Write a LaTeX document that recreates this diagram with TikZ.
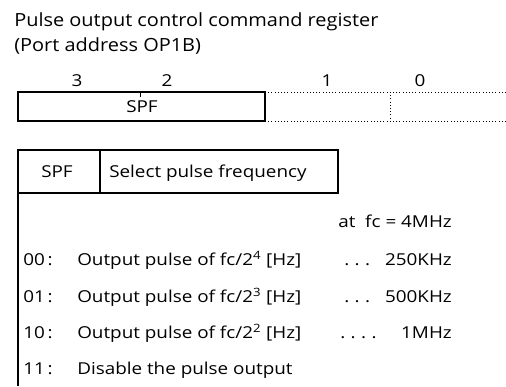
\documentclass[tikz,border=0pt]{standalone}
\usepackage{fontspec}
\setmainfont[FakeStretch=1.15]{Open Sans}
\newfontfamily\titlefont[FakeStretch=1.1]{Open Sans}
\usetikzlibrary{positioning}

\begin{document}
\begin{tikzpicture}[x=0.75pt,y=-0.75pt,
    txt/.style={inner sep=0pt,font=\fontsize{12.3}{14}\selectfont},
    ttl/.style={inner sep=0pt,anchor=base west,font=\titlefont\fontsize{13.6}{15}\selectfont},
    lbl/.style={txt,anchor=base west},
    val/.style={txt,anchor=base east}]
    \useasboundingbox (0,0) rectangle (506,386);
    % title
    \node[ttl] (title) at (14,26) {Pulse output control command register};
    \node[ttl] (port) at (14,51) {(Port address OP1B)};
    % bit numbers
    \foreach \b/\x in {3/77,2/167,1/327,0/420}
        \node[txt,anchor=base] (bit\b) at (\x,86) {\b};
    % register
    \draw[line width=1.8pt] (18,92) rectangle (265,121);
    \draw[line width=0.6pt] (140,92) -- (140,97);
    \node[txt,anchor=base] (spfreg) at (142,112) {SPF};
    \draw[dotted] (265,92) -- (506,92) (265,121) -- (506,121) (390,92) -- (390,121);
    % description table
    \draw[line width=0.8pt] (18,150) rectangle (338,193) (100,150) -- (100,193);
    \draw[line width=1pt] (18,193) -- (18,386);
    \node[txt,anchor=base] (spf) at (57,177) {SPF};
    \node[lbl] (sel) at (109,177) {Select pulse frequency};
    \node[val] (fc) at (452,227) {at\ \ fc = 4MHz};
    % settings
    \node[lbl] (c0) at (23,265) {00\,:};
    \node[lbl] (t0) at (77,265) {Output pulse of fc/2\textsuperscript{4} [Hz]};
    \node[lbl] (d0) at (344,265) {.\,\,.\,\,.};
    \node[val] (v0) at (452,265) {250KHz};
    \node[lbl] (c1) at (23,302) {01\,:};
    \node[lbl] (t1) at (77,302) {Output pulse of fc/2\textsuperscript{3} [Hz]};
    \node[lbl] (d1) at (344,302) {.\,\,.\,\,.};
    \node[val] (v1) at (452,302) {500KHz};
    \node[lbl] (c2) at (23,338) {10\,:};
    \node[lbl] (t2) at (77,338) {Output pulse of fc/2\textsuperscript{2} [Hz]};
    \node[lbl] (d2) at (340,338) {.\,\,.\,\,.\,\,.};
    \node[val] (v2) at (452,338) {1MHz};
    \node[lbl] (c3) at (23,374) {11\,:};
    \node[lbl] (t3) at (77,374) {Disable the pulse output};
\end{tikzpicture}
\end{document}
